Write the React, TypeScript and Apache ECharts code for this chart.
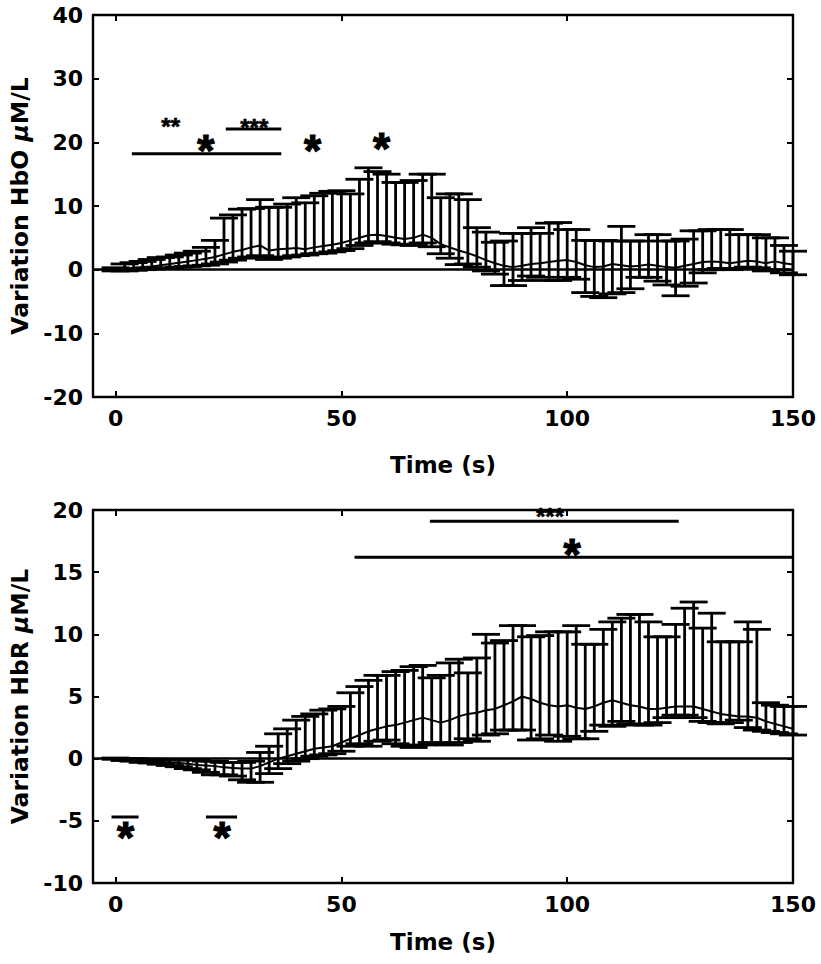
import React, { useEffect, useRef } from "react";
import * as echarts from "echarts";

// ---------- data ----------
const TIME = [0, 2, 4, 6, 8, 10, 12, 14, 16, 18, 20, 22, 24, 26, 28, 30, 32, 34, 36, 38, 40, 42, 44, 46, 48, 50,
  52, 54, 56, 58, 60, 62, 64, 66, 68, 70, 72, 74, 76, 78, 80, 82, 84, 86, 88, 90, 92, 94, 96, 98, 100,
  102, 104, 106, 108, 110, 112, 114, 116, 118, 120, 122, 124, 126, 128, 130, 132, 134, 136, 138, 140,
  142, 144, 146, 148, 150];

const HBO_MEAN = [0.0, 0.1, 0.3, 0.4, 0.5, 0.7, 0.9, 1.1, 1.3, 1.5, 1.7, 2.0, 2.4, 2.8, 3.1, 3.5, 3.8, 3.0, 3.2, 3.3, 3.4, 3.2, 3.5, 3.7, 3.9, 4.2,
  4.6, 5.0, 5.4, 5.5, 5.3, 5.0, 4.8, 5.0, 5.5, 5.0, 4.0, 3.5, 3.0, 2.6, 2.1, 1.5, 1.0, 0.6, 0.4, 0.6, 0.9, 1.0, 1.2, 1.4, 1.5,
  1.2, 0.7, 0.4, 0.5, 0.9, 0.7, 0.5, 0.6, 0.8, 0.6, 0.4, 0.3, 0.6, 0.9, 1.2, 1.3, 1.2, 1.0, 1.2, 1.4,
  1.3, 1.0, 1.3, 1.0, 0.8];
const HBO_UPPER = [0.3, 0.9, 1.1, 1.3, 1.6, 1.9, 2.0, 2.3, 2.6, 2.9, 3.5, 4.6, 8.1, 8.6, 9.5, 9.6, 11.0, 9.8, 9.8, 10.3, 11.3, 10.5, 11.6, 12.0, 12.3, 12.4,
  11.9, 14.2, 16.0, 15.4, 15.0, 13.7, 13.7, 14.0, 15.0, 15.0, 11.3, 11.9, 11.9, 11.0, 6.6, 5.9, 4.3, 4.5, 5.7, 5.7, 6.6, 5.7, 7.3, 7.4, 6.3,
  6.3, 4.6, 4.6, 4.6, 4.5, 6.8, 4.5, 4.5, 5.5, 5.5, 4.5, 4.5, 4.8, 6.1, 6.1, 6.3, 6.3, 6.3, 5.5, 5.5,
  5.5, 5.0, 5.0, 3.8, 2.9];
const HBO_LOWER = [-0.2, -0.2, -0.1, 0.0, 0.1, 0.2, 0.3, 0.4, 0.5, 0.6, 0.7, 0.9, 1.2, 1.5, 1.8, 2.0, 2.2, 1.6, 1.8, 2.0, 2.2, 2.3, 2.5, 2.6, 2.8, 3.0,
  3.3, 3.8, 4.2, 4.4, 4.2, 4.0, 3.9, 3.8, 4.2, 3.6, 2.5, 1.8, 0.8, 0.9, 0.4, -0.2, -0.7, -2.5, -2.5, -1.7, -1.0, -1.2, -1.7, -1.7, -1.2,
  -1.5, -3.6, -4.2, -4.4, -3.8, -3.6, -3.0, -1.2, -1.2, -1.8, -2.4, -4.1, -2.6, -2.1, -0.5, 0.0, 0.2, 0.0, 0.2, 0.4,
  0.3, -0.2, 0.0, -0.5, -0.8];

const HBR_MEAN = [0.0, -0.05, -0.1, -0.15, -0.2, -0.25, -0.3, -0.35, -0.4, -0.5, -0.55, -0.6, -0.7, -0.75, -0.8, -0.8, -0.6, -0.3, 0.0, 0.2, 0.4, 0.6, 0.8, 0.9, 1.0, 1.3,
  1.6, 1.9, 2.2, 2.4, 2.6, 2.7, 2.9, 3.1, 3.3, 3.1, 2.9, 3.1, 3.4, 3.6, 3.7, 3.9, 4.0, 4.3, 4.6, 5.0, 4.8, 4.5, 4.3, 4.2, 4.3,
  4.1, 4.0, 4.2, 4.5, 4.7, 4.5, 4.3, 4.2, 4.0, 4.0, 4.1, 4.2, 4.2, 4.2, 4.0, 3.8, 3.6, 3.5, 3.4, 3.4,
  3.3, 3.0, 2.8, 2.6, 2.4];
const HBR_UPPER = [0.05, 0.0, 0.0, -0.05, -0.05, -0.05, -0.1, -0.1, -0.1, -0.1, -0.2, -0.2, -0.3, -0.3, -0.3, -0.2, 0.5, 1.0, 2.0, 2.4, 3.1, 3.4, 3.6, 3.9, 4.0, 4.2,
  5.3, 5.8, 6.3, 6.7, 6.7, 7.0, 7.1, 7.4, 7.5, 6.5, 6.7, 7.7, 8.0, 6.9, 8.1, 10.0, 9.3, 9.5, 10.7, 10.7, 9.8, 9.9, 10.2, 10.2, 10.2,
  10.7, 9.2, 9.2, 10.4, 11.0, 11.3, 11.6, 11.6, 11.0, 9.8, 9.8, 10.8, 12.1, 12.6, 10.5, 11.7, 9.4, 9.4, 9.4, 11.0,
  10.4, 4.5, 4.3, 4.2, 4.2];
const HBR_LOWER = [-0.05, -0.15, -0.2, -0.3, -0.35, -0.45, -0.55, -0.65, -0.8, -0.9, -1.1, -1.3, -1.3, -1.4, -1.7, -1.9, -1.9, -1.2, -0.8, -0.4, -0.2, 0.0, 0.2, 0.3, 0.4, 0.6,
  1.0, 1.2, 1.0, 1.4, 1.5, 1.2, 1.0, 0.9, 1.1, 1.3, 1.2, 1.1, 1.3, 1.6, 1.4, 1.9, 2.0, 2.3, 2.3, 2.3, 1.5, 1.6, 1.9, 1.4, 1.8,
  1.6, 1.6, 2.2, 2.7, 2.6, 3.0, 2.8, 2.7, 2.7, 2.9, 3.3, 3.5, 3.5, 3.3, 3.0, 2.9, 2.8, 2.9, 3.1, 2.5,
  2.3, 2.2, 2.1, 2.0, 1.9];

// significance bars: [tStart, tEnd, value]
const HBO_SIG_LINES = [[3.6, 36.7, 18.2], [24.4, 36.7, 22.1]];
const HBR_SIG_LINES = [[52.9, 150, 16.2], [69.6, 124.7, 19.1], [-0.9, 5.1, -4.7], [20.0, 26.9, -4.7]];
// significance marks: [t, value, text]
const HBO_SIG_MARKS: [number, number, string][] = [[12.2, 23.1, "**"], [20.0, 19.9, "*"], [30.7, 22.9, "***"], [43.6, 19.9, "*"], [58.9, 20.2, "*"]];
const HBR_SIG_MARKS: [number, number, string][] = [[101.1, 17.0, "*"], [96.2, 19.8, "***"], [2.2, -5.8, "*"], [23.6, -5.8, "*"]];

const X_TICKS = [0, 50, 100, 150];

// ---------- chart ----------
const FONT = "DejaVu Sans";
const STAR_FONT = "Liberation Sans";
const BLACK = "#000";

function errorBarRender(params: any, api: any) {
  const t = api.value(0);
  const lo = api.coord([t, api.value(1)]);
  const hi = api.coord([t, api.value(2)]);
  const hw = 14;
  const style = { stroke: BLACK, lineWidth: 2.8 };
  return {
    type: "group",
    children: [
      { type: "line", shape: { x1: lo[0], y1: lo[1], x2: hi[0], y2: hi[1] }, style },
      { type: "line", shape: { x1: hi[0] - hw, y1: hi[1], x2: hi[0] + hw, y2: hi[1] }, style },
      { type: "line", shape: { x1: lo[0] - hw, y1: lo[1], x2: lo[0] + hw, y2: lo[1] }, style },
    ],
  };
}

function xAxes(gridIndex: number, nameGap: number) {
  const common = {
    type: "value", gridIndex, min: -5, max: 150,
    axisLine: { onZero: false, lineStyle: { color: BLACK, width: 2.4 } },
    splitLine: { show: false },
  };
  return [
    {
      ...common, position: "bottom",
      name: "Time (s)", nameLocation: "middle", nameGap,
      nameTextStyle: { fontFamily: FONT, fontWeight: "bold", fontSize: 23, color: BLACK },
      axisTick: { inside: true, length: 6, customValues: X_TICKS, lineStyle: { color: BLACK, width: 2 } },
      axisLabel: { customValues: X_TICKS, margin: 10, fontFamily: FONT, fontWeight: "bold", fontSize: 22, color: BLACK },
    },
    {
      ...common, position: "top",
      axisTick: { inside: true, length: 6, customValues: X_TICKS, lineStyle: { color: BLACK, width: 2 } },
      axisLabel: { show: false },
    },
  ];
}

function yAxes(gridIndex: number, min: number, max: number, interval: number, label: string) {
  const common = {
    type: "value", gridIndex, min, max, interval,
    axisLine: { onZero: false, lineStyle: { color: BLACK, width: 2.4 } },
    splitLine: { show: false },
    axisTick: { inside: true, length: 6, lineStyle: { color: BLACK, width: 2 } },
  };
  return [
    {
      ...common, position: "left",
      name: `{a|Variation ${label} }{b|μ}{a|M/L}`, nameLocation: "middle", nameGap: 57,
      nameTextStyle: {
        rich: {
          a: { fontFamily: FONT, fontWeight: "bold", fontSize: 23.5, color: BLACK },
          b: { fontFamily: FONT, fontWeight: "bold", fontStyle: "italic", fontSize: 23.5, color: BLACK },
        },
      },
      axisLabel: { margin: 10, fontFamily: FONT, fontWeight: "bold", fontSize: 22, color: BLACK },
    },
    { ...common, position: "right", axisLabel: { show: false } },
  ];
}

function panelSeries(xi: number, yi: number, mean: number[], upper: number[], lower: number[],
  sigLines: number[][], sigMarks: [number, number, string][]) {
  const s: any[] = [];
  s.push({
    type: "custom", xAxisIndex: xi, yAxisIndex: yi, renderItem: errorBarRender,
    encode: { x: 0, y: [1, 2] }, z: 3,
    data: TIME.map((t, i) => [t, lower[i], upper[i]]),
  });
  s.push({
    type: "line", xAxisIndex: xi, yAxisIndex: yi, showSymbol: false, symbol: "none", z: 4,
    lineStyle: { color: BLACK, width: 2 },
    data: TIME.map((t, i) => [t, mean[i]]),
    markLine: {
      silent: true, symbol: ["none", "none"], label: { show: false },
      lineStyle: { color: BLACK, width: 2.6, type: "solid" },
      data: [{ yAxis: 0 }],
    },
  });
  sigLines.forEach((l) => {
    s.push({
      type: "line", xAxisIndex: xi, yAxisIndex: yi, showSymbol: false, symbol: "none", z: 5,
      lineStyle: { color: BLACK, width: 3 },
      data: [[l[0], l[2]], [l[1], l[2]]],
    });
  });
  s.push({
    type: "scatter", xAxisIndex: xi, yAxisIndex: yi, z: 6, symbolSize: 0,
    itemStyle: { color: BLACK, opacity: 1 },
    data: sigMarks.map((m) => {
      const big = m[2] === "*";
      const fs = big ? 44 : 24;
      return {
        value: [m[0], m[1]],
        label: {
          show: true, position: "inside", formatter: m[2],
          fontFamily: STAR_FONT, fontWeight: "bold", fontSize: fs, color: BLACK, opacity: 1,
          textBorderWidth: big ? 1.2 : 0.6, textBorderColor: BLACK,
          offset: [0, fs * 0.16],
        },
      };
    }),
  });
  return s;
}

export default function App() {
  const ref = useRef<HTMLDivElement>(null);
  useEffect(() => {
    if (!ref.current) return;
    const chart = echarts.init(ref.current, null, { renderer: "svg" });
    chart.setOption({
      animation: false,
      backgroundColor: "#fff",
      grid: [
        { left: 93, top: 15, width: 700, height: 382 },
        { left: 93, top: 510, width: 700, height: 373 },
      ],
      xAxis: [...xAxes(0, 56), ...xAxes(1, 47)],
      yAxis: [...yAxes(0, -20, 40, 10, "HbO"), ...yAxes(1, -10, 20, 5, "HbR")],
      series: [
        ...panelSeries(0, 0, HBO_MEAN, HBO_UPPER, HBO_LOWER, HBO_SIG_LINES, HBO_SIG_MARKS),
        ...panelSeries(2, 2, HBR_MEAN, HBR_UPPER, HBR_LOWER, HBR_SIG_LINES, HBR_SIG_MARKS),
      ],
    });
    return () => chart.dispose();
  }, []);
  return <div ref={ref} style={{ position: "absolute", left: 0, top: 0, width: 821, height: 964, background: "#fff" }} />;
}
